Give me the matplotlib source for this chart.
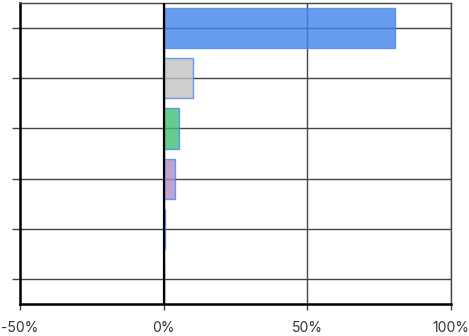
import numpy as np
from matplotlib import pyplot as plt
from matplotlib.ticker import FuncFormatter

plt.rcParams['font.family'] = ['Inter', 'DejaVu Sans']

categories = ['A', 'B', 'C', 'D', 'E', 'F']
values = [80.7, 10.2, 5.3, 3.9, 0.5, 0.0]
colors = ['#4283ec', '#c2c2c2', '#40bf73', '#b08dc9', '#4283ec', '#4283ec']
x_ticks = [-50, 0, 50, 100]

fig = plt.figure(figsize=(4.69, 3.36), dpi=100)
ax = fig.add_axes([0.0426, 0.0952, 0.9184, 0.8958])

y = np.arange(len(categories))
ax.barh(y, values, height=0.8, color=colors, alpha=0.8,
        edgecolor='#4a86e8', linewidth=1, zorder=3)

ax.set_xlim(-50, 100)
ax.set_ylim(len(categories) - 0.5, -0.5)
ax.set_xticks(x_ticks)
ax.xaxis.set_major_formatter(FuncFormatter(lambda v, p: '%d%%' % v))
ax.set_yticks(y)
ax.set_yticklabels([])

ax.grid(True, color='#444444', linewidth=1, zorder=1)
ax.set_axisbelow(True)
ax.axvline(0, color='black', linewidth=1.6, zorder=4)

for s in ['top', 'right']:
    ax.spines[s].set_color('#444444')
    ax.spines[s].set_linewidth(1)
for s in ['left', 'bottom']:
    ax.spines[s].set_color('black')
    ax.spines[s].set_linewidth(1.8)

ax.tick_params(axis='y', length=6, width=1, color='#444444')
ax.tick_params(axis='x', length=4.5, width=1, color='#444444',
               labelsize=10, labelcolor='#333333', pad=8)

plt.savefig('out.png', dpi=100)
